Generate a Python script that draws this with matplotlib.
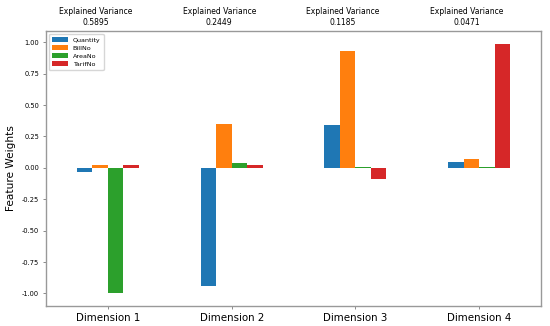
import numpy as np
import pandas as pd
import matplotlib
matplotlib.use('Agg')
import matplotlib.pyplot as plt

# PCA component weights
dimensions = ['Dimension 1', 'Dimension 2', 'Dimension 3', 'Dimension 4']
features = ['Quantity', 'BillNo', 'AreaNo', 'TarifNo']
quantity = [-0.035, -0.94, 0.345, 0.05]
bill_no = [0.02, 0.35, 0.93, 0.07]
area_no = [-1.0, 0.04, 0.005, 0.01]
tarif_no = [0.02, 0.025, -0.085, 0.99]
explained_variance = [0.5895, 0.2449, 0.1185, 0.0471]

components = pd.DataFrame({'Quantity': quantity, 'BillNo': bill_no,
                           'AreaNo': area_no, 'TarifNo': tarif_no},
                          index=dimensions)[features]

fig = plt.figure(figsize=(5.5, 3.26), dpi=100)
ax = fig.add_axes([46 / 550, 1 - 306 / 326, (541 - 46) / 550, (306 - 31) / 326])

components.plot(ax=ax, kind='bar', legend=False,
                color=['#1f77b4', '#ff7f0e', '#2ca02c', '#d62728'])
ax.set_ylim(-1.10, 1.09)
ticks = np.arange(-1.0, 1.01, 0.25)
ax.set_yticks(ticks)
ax.set_yticklabels([f'{v:.2f}' for v in ticks], fontsize=4.8)
ax.set_xticklabels(dimensions, rotation=0, fontsize=7.4)
ax.set_ylabel('Feature Weights', fontsize=7.6, labelpad=4)
ax.tick_params(axis='both', length=2.5, width=0.6, color='#777777', pad=2.5)

for s in ax.spines.values():
    s.set_color('#999999')
    s.set_linewidth(1.0)

# explained variance above each dimension
for i, ev in enumerate(explained_variance):
    ax.text(i - 0.1, ax.get_ylim()[1] + 0.05,
            'Explained Variance\n%.4f' % ev,
            ha='center', va='baseline', fontsize=5.5, linespacing=1.25)

ax.legend(loc='upper left', fontsize=4.6, handlelength=2.4, handleheight=0.7,
          borderpad=0.5, labelspacing=0.4, edgecolor='#cccccc', fancybox=True)

fig.savefig('out.png', dpi=100)
